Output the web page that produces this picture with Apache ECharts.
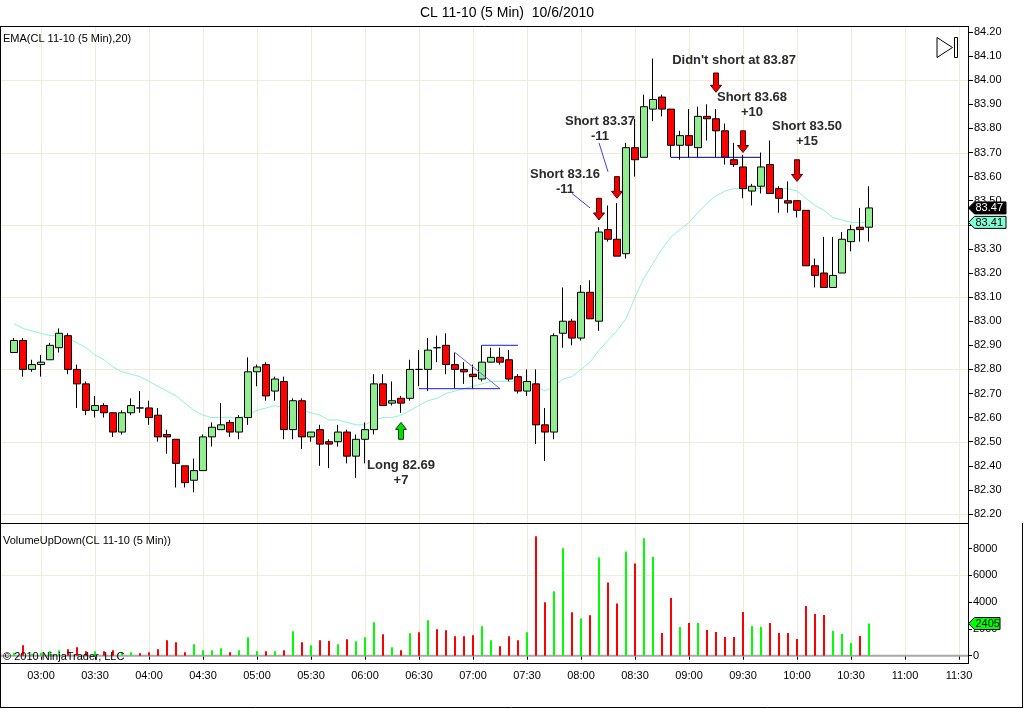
<!DOCTYPE html>
<html lang="en">
<head>
    <meta charset="UTF-8">
    <title>CL 11-10 (5 Min)  10/6/2010</title>
    <script src="https://cdn.jsdelivr.net/npm/echarts@6.0.0/dist/echarts.min.js"></script>
    <style>
        html, body { margin: 0; padding: 0; background: #fff; }
        #main { width: 1024px; height: 709px; }
    </style>
</head>
<body>
<div id="main"></div>
<script>
    // 5 minute slots on the time axis
    var times = ['02:40','02:45','02:50','02:55',
        '03:00','03:05','03:10','03:15','03:20','03:25','03:30','03:35','03:40','03:45','03:50','03:55',
        '04:00','04:05','04:10','04:15','04:20','04:25','04:30','04:35','04:40','04:45','04:50','04:55',
        '05:00','05:05','05:10','05:15','05:20','05:25','05:30','05:35','05:40','05:45','05:50','05:55',
        '06:00','06:05','06:10','06:15','06:20','06:25','06:30','06:35','06:40','06:45','06:50','06:55',
        '07:00','07:05','07:10','07:15','07:20','07:25','07:30','07:35','07:40','07:45','07:50','07:55',
        '08:00','08:05','08:10','08:15','08:20','08:25','08:30','08:35','08:40','08:45','08:50','08:55',
        '09:00','09:05','09:10','09:15','09:20','09:25','09:30','09:35','09:40','09:45','09:50','09:55',
        '10:00','10:05','10:10','10:15','10:20','10:25','10:30','10:35','10:40','10:45','10:50','10:55',
        '11:00','11:05','11:10','11:15','11:20','11:25','11:30','11:35'];
    var firstBar = '02:45';

    var opens = [82.87,82.92,82.80,82.82,82.84,82.89,82.94,82.80,82.74,82.63,
        82.65,82.62,82.54,82.62,82.64,82.64,82.61,82.53,82.51,82.40,
        82.34,82.38,82.52,82.55,82.58,82.54,82.60,82.79,82.82,82.71,
        82.75,82.55,82.67,82.52,82.55,82.50,82.50,82.54,82.44,82.51,
        82.55,82.74,82.66,82.68,82.68,82.80,82.80,82.89,82.90,82.82,
        82.80,82.78,82.76,82.83,82.85,82.84,82.77,82.71,82.74,82.57,
        82.54,82.95,83.00,82.93,83.12,83.00,83.38,83.34,83.28,83.72,
        83.68,83.88,83.93,83.88,83.73,83.77,83.72,83.85,83.84,83.79,
        83.67,83.64,83.54,83.56,83.65,83.55,83.50,83.50,83.46,83.23,
        83.20,83.14,83.20,83.33,83.39,83.39];
    var closes = [82.92,82.80,82.82,82.83,82.90,82.95,82.80,82.74,82.63,82.65,
        82.62,82.54,82.62,82.65,82.64,82.60,82.52,82.52,82.41,82.33,
        82.38,82.52,82.56,82.57,82.54,82.60,82.79,82.81,82.69,82.76,
        82.55,82.67,82.52,82.54,82.49,82.49,82.54,82.44,82.51,82.55,
        82.74,82.65,82.67,82.66,82.80,82.80,82.88,82.89,82.82,82.80,
        82.79,82.77,82.83,82.85,82.83,82.76,82.71,82.75,82.57,82.54,
        82.94,83.00,82.93,83.12,83.01,83.37,83.34,83.27,83.72,83.67,
        83.89,83.92,83.88,83.73,83.77,83.73,83.85,83.84,83.79,83.68,
        83.65,83.55,83.56,83.64,83.53,83.51,83.49,83.46,83.23,83.19,
        83.14,83.19,83.34,83.38,83.38,83.47];
    var lows = [82.87,82.77,82.79,82.77,82.84,82.87,82.78,82.64,82.61,82.60,
        82.60,82.52,82.53,82.61,82.62,82.57,82.50,82.45,82.31,82.31,
        82.29,82.38,82.48,82.55,82.52,82.51,82.57,82.73,82.67,82.67,
        82.51,82.51,82.47,82.50,82.40,82.39,82.48,82.41,82.35,82.41,
        82.53,82.65,82.65,82.62,82.67,82.73,82.71,82.83,82.78,82.72,
        82.74,82.72,82.75,82.83,82.82,82.75,82.70,82.69,82.49,82.42,
        82.51,82.89,82.90,82.92,83.01,82.96,83.33,83.27,83.26,83.60,
        83.68,83.83,83.85,83.68,83.67,83.68,83.68,83.75,83.68,83.65,
        83.64,83.51,83.48,83.53,83.53,83.45,83.45,83.43,83.23,83.14,
        83.14,83.14,83.20,83.29,83.33,83.33];
    var highs = [82.93,82.93,82.84,82.86,82.91,82.97,82.95,82.82,82.75,82.69,
        82.66,82.62,82.63,82.68,82.71,82.67,82.64,82.55,82.51,82.40,
        82.43,82.53,82.58,82.66,82.59,82.61,82.85,82.82,82.83,82.77,
        82.77,82.68,82.68,82.54,82.57,82.51,82.57,82.55,82.53,82.58,
        82.78,82.78,82.75,82.69,82.84,82.88,82.93,82.94,82.95,82.87,
        82.83,82.82,82.90,82.89,82.89,82.88,82.78,82.80,82.80,82.64,
        82.95,83.14,83.01,83.15,83.17,83.39,83.48,83.49,83.74,83.84,
        83.94,84.09,83.94,83.88,83.79,83.88,83.89,83.90,83.88,83.82,
        83.74,83.69,83.57,83.70,83.75,83.56,83.58,83.50,83.46,83.26,
        83.35,83.35,83.37,83.40,83.47,83.56];
    // EMA(20)
    var ema20 = [82.99,82.97,82.96,82.95,82.94,82.94,82.93,82.91,82.89,82.86,
        82.84,82.81,82.79,82.78,82.77,82.75,82.73,82.71,82.69,82.66,
        82.63,82.61,82.60,82.60,82.60,82.60,82.61,82.63,82.64,82.65,
        82.64,82.64,82.63,82.62,82.61,82.59,82.59,82.58,82.57,82.57,
        82.59,82.60,82.60,82.61,82.63,82.65,82.67,82.68,82.70,82.71,
        82.72,82.73,82.74,82.75,82.75,82.75,82.75,82.74,82.73,82.71,
        82.73,82.76,82.77,82.80,82.83,82.88,82.92,82.96,83.01,83.10,
        83.18,83.24,83.30,83.35,83.38,83.41,83.45,83.49,83.52,83.54,
        83.55,83.55,83.55,83.55,83.56,83.55,83.55,83.54,83.51,83.48,
        83.46,83.43,83.42,83.41,83.41,83.41];
    var volumes = [225,775,150,225,325,400,475,625,325,325,
        325,400,250,250,175,250,475,1150,1000,250,
        850,400,400,550,250,400,1375,325,325,325,
        400,1825,1000,775,1150,1100,850,1225,1075,1375,
        2500,1600,625,400,1675,1750,2650,1975,1900,1450,
        1450,1525,2200,1150,700,1450,1150,1750,8925,3990,
        4810,8025,3240,2790,3015,7350,5480,3910,7800,6900,
        8790,7375,1695,4310,2140,2440,2440,1920,1770,1395,
        1395,3265,2220,2140,2440,1695,1695,1245,3710,3115,
        3040,1845,1620,945,1470,2405];

    var priceGrid = [82.2, 82.5, 82.8, 83.1, 83.4, 83.7, 84.0];
    var volumeGrid = [6000];

    // hand drawn marks on the chart
    var arrows = [
        {t: '08:10', tail: 83.51, tip: 83.42, up: false},
        {t: '08:20', tail: 83.60, tip: 83.51, up: false},
        {t: '09:15', tail: 84.03, tip: 83.95, up: false},
        {t: '09:30', tail: 83.79, tip: 83.70, up: false},
        {t: '10:00', tail: 83.67, tip: 83.58, up: false},
        {t: '06:20', tail: 82.51, tip: 82.58, up: true}
    ];
    var notes = [
        {t: '07:50', dx: 2, p: 83.61, lines: ['Short 83.16', '-11']},
        {t: '08:10', dx: 1, p: 83.83, lines: ['Short 83.37', '-11']},
        {t: '09:15', dx: 18, p: 84.08, lines: ["Didn't short at 83.87"]},
        {t: '09:30', dx: 9, p: 83.93, lines: ['Short 83.68', '+10']},
        {t: '10:00', dx: 10, p: 83.81, lines: ['Short 83.50', '+15']},
        {t: '06:20', dx: 0, p: 82.40, lines: ['Long 82.69', '+7']}
    ];
    var segments = [
        {a: ['07:55', 83.53], b: ['08:05', 83.47], c: '#3d3dff'},
        {a: ['08:10', 83.74], b: ['08:15', 83.62], c: '#3d3dff'},
        {a: ['06:50', 82.87], b: ['07:15', 82.72], c: '#6060ff'},
        {a: ['06:30', 82.72], b: ['07:15', 82.72], c: '#1a1aff'},
        {a: ['07:05', 82.90], b: ['07:25', 82.90], c: '#1a1aff'},
        {a: ['08:50', 83.68], b: ['09:40', 83.68], c: '#000080'}
    ];

    var font = '"Liberation Sans", Arial, sans-serif';
    var chart = echarts.init(document.getElementById('main'));

    var offset = times.indexOf(firstBar);
    var candleData = [], emaData = [], volData = [];
    for (var i = 0; i < opens.length; i++) {
        var t = times[offset + i];
        candleData.push([t, opens[i], closes[i], lows[i], highs[i]]);
        emaData.push([t, ema20[i]]);
        volData.push({value: [t, volumes[i]], itemStyle: {color: closes[i] > opens[i] ? '#00ff00' : '#ff0000'}});
    }
    var halfHour = function (idx, val) { return /:(00|30)$/.test(val); };

    var option = {
        animation: false,
        textStyle: {fontFamily: font},
        grid: [
            {left: 5, right: 56, top: 32, height: 482},
            {left: 5, right: 56, top: 548.7, height: 107}
        ],
        xAxis: [
            {type: 'category', data: times, gridIndex: 0, boundaryGap: false, show: false},
            {type: 'category', data: times, gridIndex: 1, boundaryGap: false, offset: 7,
                axisLine: {lineStyle: {color: '#000'}},
                axisTick: {interval: halfHour, length: 4, lineStyle: {color: '#000'}},
                axisLabel: {interval: halfHour, color: '#000', fontSize: 11, fontFamily: font, margin: 8},
                splitLine: {show: false}}
        ],
        yAxis: [
            {type: 'value', gridIndex: 0, position: 'right', min: 82.2, max: 84.2, interval: 0.1,
                axisLine: {show: true, lineStyle: {color: '#000'}},
                axisTick: {show: true, length: 5, lineStyle: {color: '#000'}},
                axisLabel: {color: '#000', fontSize: 11, fontFamily: font, margin: 6,
                    formatter: function (v) { return v.toFixed(2); }},
                splitLine: {show: false}},
            {type: 'value', gridIndex: 1, position: 'right', min: 0, max: 8000, interval: 2000,
                axisLine: {show: true, lineStyle: {color: '#000'}},
                axisTick: {show: true, length: 4, lineStyle: {color: '#000'}},
                axisLabel: {color: '#000', fontSize: 11, fontFamily: font, margin: 5,
                    formatter: function (v) { return String(v); }},
                splitLine: {show: false}}
        ],
        series: [
            {
                name: 'CL 11-10', type: 'candlestick', xAxisIndex: 0, yAxisIndex: 0,
                encode: {x: 0, y: [1, 2, 3, 4]},
                data: candleData, barWidth: 7, z: 3,
                itemStyle: {color: '#90ee90', color0: '#ff0000', borderColor: '#000', borderColor0: '#000', borderWidth: 1}
            },
            {
                name: 'EMA', type: 'line', xAxisIndex: 0, yAxisIndex: 0, data: emaData,
                symbol: 'none', z: 2, lineStyle: {color: '#8ff3d6', width: 1}
            },
            {
                name: 'VolumeUpDown', type: 'bar', xAxisIndex: 1, yAxisIndex: 1, data: volData,
                barWidth: 2, z: 3, clip: false
            }
        ]
    };
    chart.setOption(option);

    var px = function (t, p) { return chart.convertToPixel({seriesIndex: 0}, [t, p]); };
    var pv = function (t, v) { return chart.convertToPixel({seriesIndex: 2}, [t, v]); };
    var crisp = function (v) { return Math.round(v) + 0.5; };
    var els = [];
    var line = function (x1, y1, x2, y2, color, w, z) {
        els.push({type: 'line', z: z, silent: true, shape: {x1: x1, y1: y1, x2: x2, y2: y2},
            style: {stroke: color, lineWidth: w || 1}});
    };
    var text = function (x, y, s, f, color, align, z) {
        els.push({type: 'text', z: z || 50, x: x, y: y, silent: true,
            style: {text: s, font: f, fill: color, align: align || 'left', verticalAlign: 'middle'}});
    };

    var axisX = crisp(px(times[times.length - 1], 84.2)[0]);
    // grid lines
    times.forEach(function (t, k) {
        if (halfHour(k, t)) {
            var x = crisp(px(t, 84.2)[0]);
            line(x, 26, x, 663, '#efedd8', 1, 0);
        }
    });
    priceGrid.forEach(function (p) {
        var y = crisp(px(times[0], p)[1]);
        line(0, y, axisX, y, '#efedd8', 1, 0);
    });
    volumeGrid.forEach(function (v) {
        var y = crisp(pv(times[0], v)[1]);
        line(0, y, axisX, y, '#efedd8', 1, 0);
    });
    var zeroY = pv(times[0], 0)[1];
    line(0, zeroY, axisX, zeroY, '#a8a8a8', 2, 1);

    // frame
    line(0, 26.5, axisX, 26.5, '#000', 1, 60);
    line(0, 523.5, axisX, 523.5, '#000', 1, 60);
    line(0, 663.5, axisX, 663.5, '#000', 1, 60);
    line(axisX, 26, axisX, 664, '#000', 1, 60);
    line(0.5, 26, 0.5, 708, '#000', 1, 60);
    line(1022.5, 523, 1022.5, 708, '#000', 1, 60);
    line(0, 707.5, 1023, 707.5, '#000', 1, 60);

    // titles
    text(507, 13, 'CL 11-10 (5 Min)  10/6/2010', '14px ' + font, '#000', 'center', 60);
    text(3, 39, 'EMA(CL 11-10 (5 Min),20)', '11px ' + font, '#000', 'left', 60);
    text(3, 541, 'VolumeUpDown(CL 11-10 (5 Min))', '11px ' + font, '#000', 'left', 60);
    text(3, 657, '\u00a9 2010 NinjaTrader, LLC', '11px ' + font, '#000', 'left', 60);
    els.push({type: 'polygon', z: 60, silent: true, shape: {points: [[937, 37.5], [952.5, 47.5], [937, 57.5]]},
        style: {fill: 'none', stroke: '#000', lineWidth: 1}});
    els.push({type: 'rect', z: 60, silent: true, shape: {x: 954.5, y: 37.5, width: 3, height: 20},
        style: {fill: 'none', stroke: '#000', lineWidth: 1}});

    // trade annotations
    segments.forEach(function (s) {
        var a = px(s.a[0], s.a[1]), b = px(s.b[0], s.b[1]);
        line(a[0], a[1], b[0], b[1], s.c, 1, 40);
    });
    arrows.forEach(function (a) {
        var x = px(a.t, a.tail)[0], yTail = px(a.t, a.tail)[1], yTip = px(a.t, a.tip)[1];
        var s = yTip > yTail ? 1 : -1, yNeck = yTip - s * 7;
        els.push({type: 'polygon', z: 45, silent: true,
            shape: {points: [[x - 2.5, yTail], [x + 2.5, yTail], [x + 2.5, yNeck], [x + 5.5, yNeck],
                [x, yTip], [x - 5.5, yNeck], [x - 2.5, yNeck]]},
            style: {fill: a.up ? '#00e000' : '#ee0000', stroke: a.up ? '#004000' : '#500000', lineWidth: 1}});
    });
    notes.forEach(function (n) {
        var pt = px(n.t, n.p);
        n.lines.forEach(function (s, k) {
            text(pt[0] + n.dx, pt[1] + k * 15, s, 'bold 13px ' + font, '#2a2a2a', 'center', 50);
        });
    });

    // value tags on the right axis
    var tag = function (y, s, fill, color) {
        var right = 976 + s.length * 6;
        els.push({type: 'polygon', z: 70, silent: true,
            shape: {points: [[axisX, y], [axisX + 6, y - 6], [right, y - 6], [right, y + 6], [axisX + 6, y + 6]]},
            style: {fill: fill, stroke: '#000', lineWidth: 1}});
        text(axisX + 7, y + 0.5, s, '11px ' + font, color, 'left', 71);
    };
    var last = opens.length - 1, lastT = times[offset + last];
    tag(px(lastT, closes[last])[1], closes[last].toFixed(2), '#000', '#fff');
    tag(px(lastT, ema20[last])[1], ema20[last].toFixed(2), '#7fffd4', '#000');
    tag(pv(lastT, volumes[last])[1], String(volumes[last]), '#00ff00', '#000');

    chart.setOption({graphic: {elements: els}});
</script>
</body>
</html>
